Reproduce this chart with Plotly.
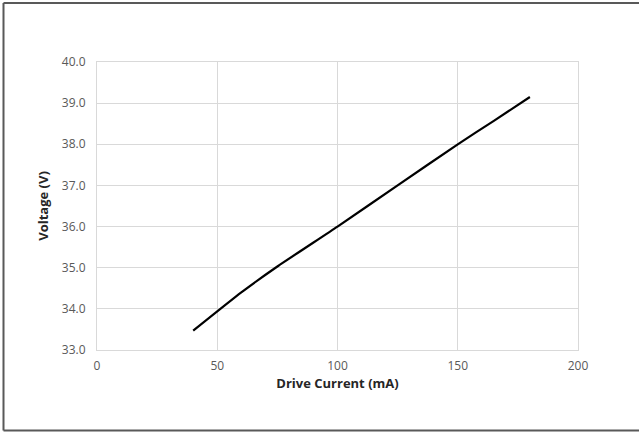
import plotly.graph_objects as go

current_ma = [40, 60, 75, 100, 125, 150, 165, 180]
voltage_v = [33.47, 34.4, 35.03, 36.0, 37.0, 38.0, 38.57, 39.15]

x_ticks = [0, 50, 100, 150, 200]
y_ticks = [33, 34, 35, 36, 37, 38, 39, 40]

W, H = 639, 432
ml, mr, mt, mb = 97, 61, 62, 82
pw, ph = W - ml - mr, H - mt - mb

fig = go.Figure()
fig.add_trace(go.Scatter(x=current_ma, y=voltage_v, mode="lines",
                         line=dict(color="black", width=2.2, shape="spline", smoothing=0.5),
                         showlegend=False, hoverinfo="skip"))

grid = "#d9d9d9"
tfont = "Open Sans, Lato, sans-serif"
fig.update_layout(
    width=W, height=H,
    margin=dict(l=ml, r=mr, t=mt, b=mb),
    paper_bgcolor="white", plot_bgcolor="white",
    font=dict(family=tfont, color="#595959", size=12),
    xaxis=dict(range=[0, 200], tickvals=x_ticks, ticktext=[str(v) for v in x_ticks],
               showgrid=True, gridcolor=grid, gridwidth=1, zeroline=False,
               showline=True, linecolor=grid, mirror=True, ticks="outside", ticklen=5,
               tickcolor="rgba(0,0,0,0)",
               title=dict(text="<b>Drive Current (mA)</b>", font=dict(family=tfont, size=13, color="#262626"), standoff=2),
               tickfont=dict(family=tfont, size=12, color="#595959")),
    yaxis=dict(range=[33, 40], tickvals=y_ticks, ticktext=[f"{v:.1f}" for v in y_ticks],
               showgrid=True, gridcolor=grid, gridwidth=1, zeroline=False,
               showline=True, linecolor=grid, mirror=True, ticks="outside", ticklen=8,
               tickcolor="rgba(0,0,0,0)",
               title=dict(text="<b>Voltage (V)</b>", font=dict(family=tfont, size=13, color="#262626"), standoff=10),
               tickfont=dict(family=tfont, size=12, color="#595959")),
)

# outer frame around the chart area (left, top, bottom edges)
fx0 = (3.5 - ml) / pw
fx1 = (W + 3 - ml) / pw
fy_top = 1 + (mt - 3) / ph
fy_bot = -(430.5 - mt - ph) / ph
frame = dict(color="#595959", width=2)
fig.add_shape(type="line", xref="paper", yref="paper", x0=fx0, x1=fx0, y0=fy_bot, y1=fy_top, line=frame)
fig.add_shape(type="line", xref="paper", yref="paper", x0=fx0, x1=fx1, y0=fy_top, y1=fy_top, line=frame)
fig.add_shape(type="line", xref="paper", yref="paper", x0=fx0, x1=fx1, y0=fy_bot, y1=fy_bot, line=frame)

fig.write_html("out.html", config={"displayModeBar": False},
               post_script="document.body.style.margin='0';document.body.style.overflow='hidden';")
